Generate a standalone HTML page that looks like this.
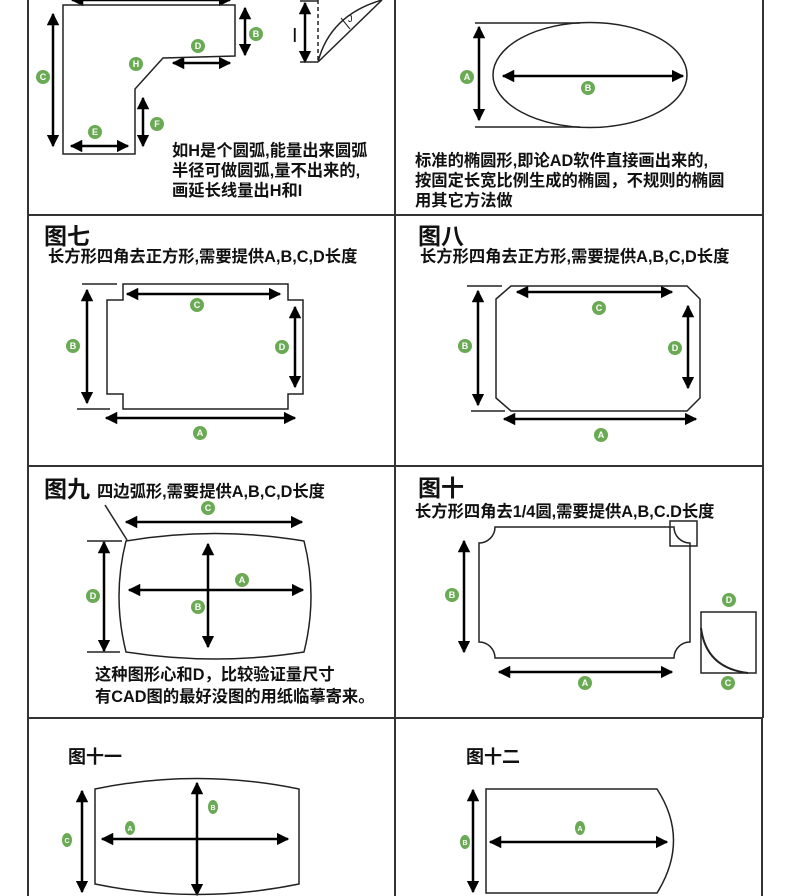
<!DOCTYPE html>
<html><head><meta charset="utf-8"><style>
html,body{margin:0;padding:0;background:#fff;}
svg{display:block;}
text{font-family:"Liberation Sans","Noto Sans CJK SC",sans-serif;}
.t{font-size:16.3px;font-weight:bold;fill:#111;}
.h{font-size:23px;font-weight:bold;fill:#111;}
.s{font-size:16.3px;font-weight:bold;fill:#111;}
.b{font-size:9px;font-weight:bold;fill:#fff;text-anchor:middle;}
</style></head><body>
<svg width="790" height="896" viewBox="0 0 790 896" xmlns="http://www.w3.org/2000/svg">
<defs>
<marker id="a" viewBox="0 0 10 10" refX="9" refY="5" markerWidth="5" markerHeight="5" orient="auto-start-reverse"><path d="M0,0L10,5L0,10z" fill="#000"/></marker>
</defs>
<g stroke="#333" stroke-width="2" fill="none">
<line x1="28" y1="0" x2="28" y2="896"/>
<line x1="395" y1="0" x2="395" y2="896"/>
<line x1="763" y1="0" x2="763" y2="718"/>
<line x1="762" y1="718" x2="762" y2="896"/>
<line x1="28" y1="215" x2="763" y2="215"/>
<line x1="28" y1="466" x2="763" y2="466"/>
<line x1="28" y1="718" x2="763" y2="718"/>
</g>
<g stroke="#000" stroke-width="2.5" fill="none" marker-start="url(#a)" marker-end="url(#a)">
<line x1="72" y1="0" x2="230" y2="0"/>
<line x1="245" y1="8" x2="245" y2="55"/>
<line x1="173" y1="63" x2="230" y2="63"/>
<line x1="53" y1="14" x2="53" y2="146"/>
<line x1="143" y1="98" x2="143" y2="146"/>
<line x1="71" y1="146" x2="128" y2="146"/>
<line x1="305" y1="3" x2="305" y2="62"/>
<line x1="479" y1="27" x2="479" y2="120"/>
<line x1="503" y1="76" x2="683" y2="76"/>
<line x1="87" y1="290" x2="87" y2="403"/>
<line x1="127" y1="294" x2="280" y2="294"/>
<line x1="295" y1="307" x2="295" y2="387"/>
<line x1="106" y1="418" x2="295" y2="418"/>
<line x1="478" y1="291" x2="478" y2="405"/>
<line x1="517" y1="292" x2="672" y2="292"/>
<line x1="688" y1="306" x2="688" y2="388"/>
<line x1="504" y1="419" x2="696" y2="419"/>
<line x1="126" y1="522" x2="302" y2="522"/>
<line x1="104" y1="542" x2="104" y2="651"/>
<line x1="129" y1="590" x2="303" y2="590"/>
<line x1="208" y1="544" x2="208" y2="647"/>
<line x1="464" y1="541" x2="464" y2="652"/>
<line x1="499" y1="672" x2="672" y2="672"/>
<line x1="82" y1="791" x2="82" y2="892"/>
<line x1="197" y1="783" x2="197" y2="895"/>
<line x1="102" y1="839" x2="288" y2="839"/>
<line x1="473" y1="790" x2="473" y2="892"/>
<line x1="490" y1="842" x2="667" y2="842"/>
</g>
<g stroke="#222" stroke-width="1.5" fill="none">
<path d="M63,5H235V56L163,58L135,89V154H63Z"/>
<line x1="318" y1="0" x2="318" y2="62" stroke-dasharray="4,3"/>
<line x1="300" y1="62" x2="318" y2="62"/>
<line x1="300" y1="1" x2="318" y2="1"/>
<line x1="318" y1="62" x2="382" y2="0"/>
<path d="M318,62Q330,15 382,0"/>
<line x1="341" y1="18" x2="350" y2="29" stroke-width="1"/>
<ellipse cx="590" cy="75" rx="97" ry="52.5"/>
<line x1="475" y1="23" x2="580" y2="23"/>
<line x1="475" y1="127" x2="580" y2="127"/>
<path d="M123,284H288V300H303V394H288V409H123V394H107V300H123Z"/>
<line x1="82" y1="284" x2="117" y2="284"/>
<line x1="77" y1="409" x2="110" y2="409"/>
<path d="M511,286H687L700,299V398L687,411H511L496,398V299Z"/>
<line x1="467" y1="286" x2="502" y2="286"/>
<line x1="471" y1="411" x2="505" y2="411"/>
<path d="M126,541Q215,526 304,541Q318,596 304,652Q215,666 126,652Q112,596 126,541Z"/>
<line x1="105" y1="505" x2="127" y2="540"/>
<line x1="87" y1="541" x2="122" y2="541"/>
<line x1="87" y1="652" x2="120" y2="652"/>
<path d="M495,527H674A16,16 0 0 0 690,543V642A16,16 0 0 0 674,658H495A16,16 0 0 0 479,642V543A16,16 0 0 0 495,527Z"/>
<rect x="670" y="521" width="27" height="25"/>
<rect x="701" y="612" width="55" height="61"/>
<path d="M701,628Q706,668 748,673" stroke-width="2"/>
<path d="M95,789Q197,768 299,789V884Q197,905 95,884Z"/>
<path d="M486,789H657Q690,840 657,893H486Z"/>
</g>
<g fill="#6aaa55">
<circle cx="256" cy="34" r="7"/><circle cx="198" cy="46" r="7"/><circle cx="136" cy="64" r="7"/>
<circle cx="43" cy="77" r="7"/><circle cx="157" cy="124" r="7"/><circle cx="95" cy="132" r="7"/>
<circle cx="467" cy="77" r="7"/><circle cx="588" cy="88" r="7"/>
<circle cx="73" cy="346" r="7"/><circle cx="197" cy="305" r="7"/><circle cx="282" cy="347" r="7"/><circle cx="200" cy="433" r="7"/>
<circle cx="465" cy="346" r="7"/><circle cx="599" cy="308" r="7"/><circle cx="675" cy="348" r="7"/><circle cx="601" cy="435" r="7"/>
<circle cx="208" cy="508" r="7"/><circle cx="93" cy="596" r="7"/><circle cx="242" cy="580" r="7"/><circle cx="198" cy="607" r="7"/>
<circle cx="452" cy="595" r="7"/><circle cx="585" cy="683" r="7"/><circle cx="729" cy="600" r="7"/><circle cx="728" cy="683" r="7"/>
<ellipse cx="67" cy="840" rx="5" ry="7"/><ellipse cx="213" cy="807" rx="5" ry="7"/><ellipse cx="130" cy="828" rx="5" ry="7"/>
<ellipse cx="465" cy="842" rx="5" ry="7"/><ellipse cx="580" cy="828" rx="5" ry="7"/>
</g>
<g>
<text x="256" y="37" class="b">B</text><text x="198" y="49" class="b">D</text><text x="136" y="67" class="b">H</text>
<text x="43" y="80" class="b">C</text><text x="157" y="127" class="b">F</text><text x="95" y="135" class="b">E</text>
<text x="467" y="80" class="b">A</text><text x="588" y="91" class="b">B</text>
<text x="73" y="349" class="b">B</text><text x="197" y="308" class="b">C</text><text x="282" y="350" class="b">D</text><text x="200" y="436" class="b">A</text>
<text x="465" y="349" class="b">B</text><text x="599" y="311" class="b">C</text><text x="675" y="351" class="b">D</text><text x="601" y="438" class="b">A</text>
<text x="208" y="511" class="b">C</text><text x="93" y="599" class="b">D</text><text x="242" y="583" class="b">A</text><text x="198" y="610" class="b">B</text>
<text x="452" y="598" class="b">B</text><text x="585" y="686" class="b">A</text><text x="729" y="603" class="b">D</text><text x="728" y="686" class="b">C</text>
<text x="67" y="843" class="b" style="font-size:7px">C</text><text x="213" y="810" class="b" style="font-size:7px">B</text><text x="130" y="831" class="b" style="font-size:7px">A</text>
<text x="465" y="845" class="b" style="font-size:7px">B</text><text x="580" y="831" class="b" style="font-size:7px">A</text>
</g>
<text x="292" y="42" style="font-size:20px;fill:#111">I</text>
<text x="348" y="22" style="font-size:9px;fill:#111">J</text>
<text class="t" x="172" y="156">如H是个圆弧,能量出来圆弧</text>
<text class="t" x="172" y="176">半径可做圆弧,量不出来的,</text>
<text class="t" x="172" y="196">画延长线量出H和I</text>
<text class="t" x="415" y="166">标准的椭圆形,即论AD软件直接画出来的,</text>
<text class="t" x="415" y="186">按固定长宽比例生成的椭圆，不规则的椭圆</text>
<text class="t" x="415" y="206">用其它方法做</text>
<text class="h" x="44" y="244">图七</text>
<text class="s" x="48" y="262">长方形四角去正方形,需要提供A,B,C,D长度</text>
<text class="h" x="418" y="244">图八</text>
<text class="s" x="420" y="262">长方形四角去正方形,需要提供A,B,C,D长度</text>
<text class="h" x="44" y="497">图九</text>
<text class="s" x="97" y="497">四边弧形,需要提供A,B,C,D长度</text>
<text class="t" x="95" y="680">这种图形心和D，比较验证量尺寸</text>
<text class="t" x="95" y="702">有CAD图的最好没图的用纸临摹寄来。</text>
<text class="h" x="418" y="496">图十</text>
<text class="s" x="415" y="517">长方形四角去1/4圆,需要提供A,B,C.D长度</text>
<text x="68" y="763" style="font-size:18px;font-weight:bold;fill:#111">图十一</text>
<text x="466" y="763" style="font-size:18px;font-weight:bold;fill:#111">图十二</text>
</svg>
</body></html>
